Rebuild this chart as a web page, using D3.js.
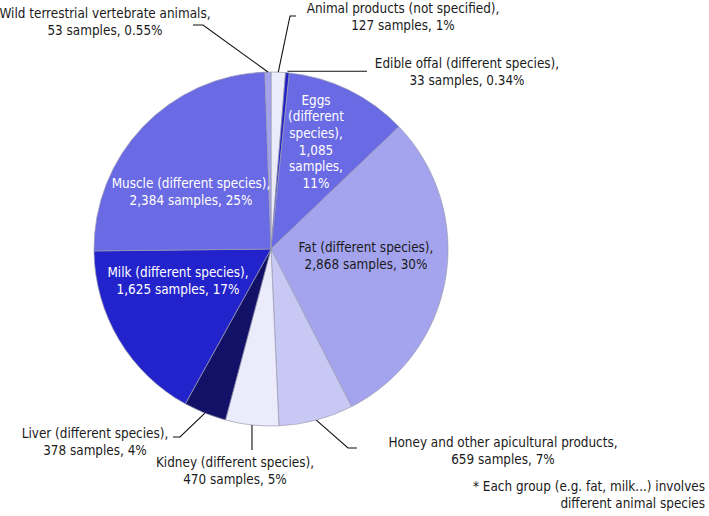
<!DOCTYPE html>
<html>
<head>
<meta charset="utf-8">
<script src="https://cdn.jsdelivr.net/npm/d3@7"></script>
<style>
  html, body { margin: 0; padding: 0; background: #fff; }
  svg text { font-family: "DejaVu Sans Condensed", "DejaVu Sans", sans-serif; font-stretch: condensed; font-size: 13.4px; }
</style>
</head>
<body>
<svg id="chart" width="709" height="516"></svg>
<script>
// ---- data ----
const categories = [
  "Animal products (not specified)",
  "Edible offal (different species)",
  "Eggs (different species)",
  "Fat (different species)",
  "Honey and other apicultural products",
  "Kidney (different species)",
  "Liver (different species)",
  "Milk (different species)",
  "Muscle (different species)",
  "Wild terrestrial vertebrate animals"
];
const samples = [127, 33, 1085, 2868, 659, 470, 378, 1625, 2384, 53];
const sampleLabels = ["127", "33", "1,085", "2,868", "659", "470", "378", "1,625", "2,384", "53"];
const percents = ["1%", "0.34%", "11%", "30%", "7%", "5%", "4%", "17%", "25%", "0.55%"];
const colors = ["#ebebfb", "#2020c4", "#6a6ae4", "#a4a4ee", "#c8c8f5", "#ebebfb", "#111167", "#2323cc", "#6a6ae4", "#a4a4ee"];
const footnote = ["* Each group (e.g. fat, milk...) involves", "different animal species"];

// ---- layout ----
const cx = 271, cy = 249, R = 177;
const lineH = 16.8;
const twoLine = i => [categories[i] + ",", sampleLabels[i] + " samples, " + percents[i]];
const layout = [
  { lines: twoLine, x: 403, y: 8, fill: "#1a1a1a", leader: [[290, 16], [296, 16]] },
  { lines: twoLine, x: 467, y: 63, fill: "#1a1a1a", leader: [[367, 71]], flat: true },
  { lines: i => ["Eggs", "(different", "species),", sampleLabels[i], "samples,", percents[i]], x: 316, y: 100, fill: "#ffffff", lh: 16.6 },
  { lines: twoLine, x: 366, y: 247, fill: "#1a1a1a" },
  { lines: twoLine, x: 503, y: 442, fill: "#1a1a1a", leader: [[348, 448], [357, 448]] },
  { lines: twoLine, x: 235, y: 462, fill: "#1a1a1a", leader: [[null, 450]] },
  { lines: twoLine, x: 95, y: 433, fill: "#1a1a1a", leader: [[180, 437], [173, 437]] },
  { lines: twoLine, x: 178, y: 272, fill: "#ffffff" },
  { lines: twoLine, x: 191, y: 183, fill: "#ffffff" },
  { lines: twoLine, x: 105, y: 13, fill: "#1a1a1a", leader: [[203, 25], [193, 25]] }
];

const svg = d3.select("#chart");
const g = svg.append("g").attr("transform", `translate(${cx},${cy})`);

const pie = d3.pie().sort(null).value(d => d)(samples);
const arc = d3.arc().innerRadius(0).outerRadius(R);

g.selectAll("path.slice").data(pie).join("path")
  .attr("class", "slice")
  .attr("d", arc)
  .attr("fill", (d, i) => colors[i])
  .attr("stroke", "#9a9ab0")
  .attr("stroke-width", 0.7);

// leader lines
pie.forEach((d, i) => {
  const L = layout[i];
  if (!L.leader) return;
  const a = (d.startAngle + d.endAngle) / 2;
  const sx = cx + R * Math.sin(a), sy = cy - R * Math.cos(a);
  const pts = [[sx, L.flat ? sy - 1.5 : sy]];
  L.leader.forEach(p => {
    pts.push([p[0] === null ? sx : p[0], L.flat ? sy - 1.5 : p[1]]);
  });
  svg.append("path")
    .attr("d", d3.line()(pts))
    .attr("fill", "none")
    .attr("stroke", "#111")
    .attr("stroke-width", 1.1);
});

// labels
pie.forEach((d, i) => {
  const L = layout[i];
  const lines = L.lines(i);
  const lh = L.lh || lineH;
  const t = svg.append("text")
    .attr("text-anchor", "middle")
    .attr("fill", L.fill);
  lines.forEach((s, k) => {
    t.append("tspan").attr("x", L.x).attr("y", L.y + k * lh).attr("dy", "0.36em").text(s);
  });
});

// footnote
const fn = svg.append("text").attr("text-anchor", "end").attr("fill", "#1a1a1a");
footnote.forEach((s, k) => {
  fn.append("tspan").attr("x", 705).attr("y", 486 + k * 17).attr("dy", "0.36em").text(s);
});
</script>
</body>
</html>
